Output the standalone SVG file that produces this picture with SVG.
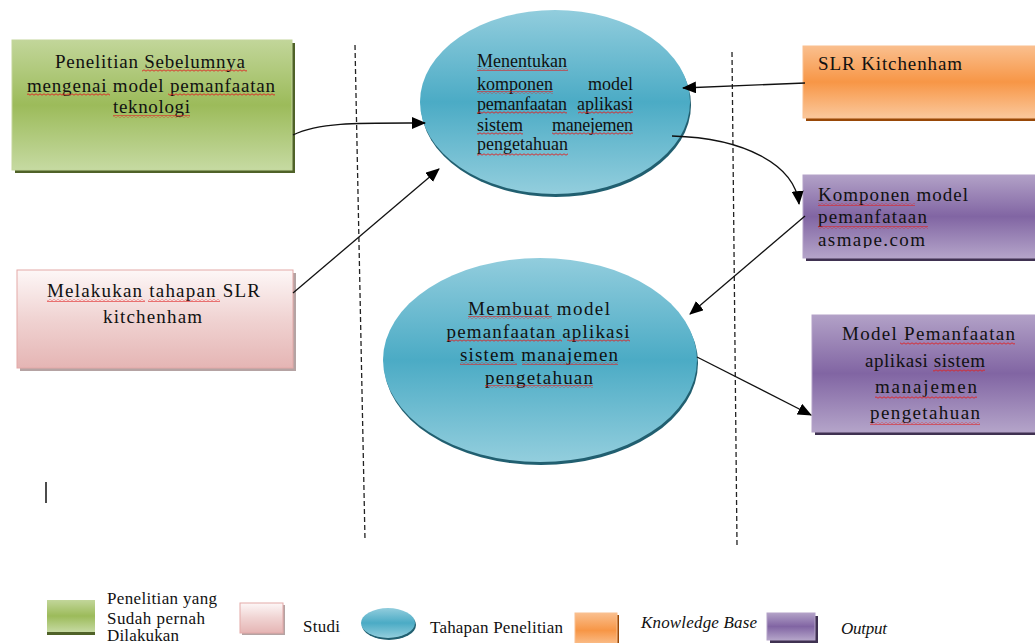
<svg xmlns="http://www.w3.org/2000/svg" width="1035" height="643" viewBox="0 0 1035 643">
<defs>
<style>
.t{font-family:"Liberation Serif","Times New Roman",serif;font-size:19px;fill:#111}
.e{font-size:18px}
.lg{font-size:17px}
.it{font-style:italic}
.conn{fill:none;stroke:#111;stroke-width:1.3}
.dash{fill:none;stroke:#222;stroke-width:1.3;stroke-dasharray:5 3}
.sq{fill:url(#squig)}
</style>
<pattern id="squig" patternUnits="userSpaceOnUse" width="4" height="3">
<path d="M0,0.8 L2,2.2 L4,0.8" fill="none" stroke="#e02020" stroke-width="0.9"/>
</pattern>
<linearGradient id="gGreen" x1="0" y1="0" x2="0" y2="1">
<stop offset="0" stop-color="#c2d69a"/><stop offset="0.5" stop-color="#9cbb5a"/><stop offset="1" stop-color="#c6daa2"/>
</linearGradient>
<linearGradient id="gPink" x1="0" y1="0" x2="0" y2="1">
<stop offset="0" stop-color="#fdf7f7"/><stop offset="0.5" stop-color="#f0d3d2"/><stop offset="1" stop-color="#e5b5b4"/>
</linearGradient>
<linearGradient id="gOrange" x1="0" y1="0" x2="0" y2="1">
<stop offset="0" stop-color="#fabf8e"/><stop offset="0.5" stop-color="#f79646"/><stop offset="1" stop-color="#fbc89c"/>
</linearGradient>
<linearGradient id="gPurple" x1="0" y1="0" x2="0" y2="1">
<stop offset="0" stop-color="#b2a1c7"/><stop offset="0.5" stop-color="#8165a3"/><stop offset="1" stop-color="#b4a4c9"/>
</linearGradient>
<linearGradient id="gBlue" x1="0" y1="0" x2="0" y2="1">
<stop offset="0" stop-color="#92cddd"/><stop offset="0.5" stop-color="#4babc5"/><stop offset="1" stop-color="#93cedd"/>
</linearGradient>
<marker id="arr" markerUnits="userSpaceOnUse" markerWidth="14" markerHeight="12" viewBox="0 0 14 12" refX="13" refY="6" orient="auto">
<path d="M0,0 L14,6 L0,12 Z" fill="#000"/>
</marker>
<clipPath id="clipP1"><rect x="803" y="175" width="240" height="73"/></clipPath>
</defs>
<rect width="1035" height="643" fill="#fff"/>

<g id="dividers">
<line class="dash" x1="355" y1="45" x2="365" y2="540"/>
<line class="dash" x1="732" y1="52" x2="737" y2="545"/>
</g>

<g id="node-penelitian">
<rect x="15" y="43" width="280" height="130" fill="#4f6228"/>
<rect x="12" y="40" width="280" height="130" fill="url(#gGreen)" stroke="#c3d69b" stroke-width="1"/>
<text class="t" x="55" y="68" textLength="190" lengthAdjust="spacing">Penelitian Sebelumnya</text>
<text class="t" x="27" y="92" textLength="248" lengthAdjust="spacing">mengenai model pemanfaatan</text>
<text class="t" x="113" y="113" textLength="77" lengthAdjust="spacing">teknologi</text>
<rect class="sq" x="142" y="69" width="105" height="3"/>
<rect class="sq" x="27" y="93" width="83" height="3"/>
<rect class="sq" x="168" y="93" width="107" height="3"/>
<rect class="sq" x="113" y="115" width="77" height="3"/>
</g>

<g id="node-studi">
<rect x="20" y="273" width="276" height="98" fill="#b5a3a3"/>
<rect x="17" y="270" width="276" height="98" fill="url(#gPink)" stroke="#e3a9a8" stroke-width="1"/>
<text class="t" x="47" y="297" textLength="213" lengthAdjust="spacing">Melakukan tahapan SLR</text>
<text class="t" x="103" y="323" textLength="99" lengthAdjust="spacing">kitchenham</text>
<rect class="sq" x="47" y="299" width="98" height="3"/>
<rect class="sq" x="148" y="299" width="72" height="3"/>
</g>

<g id="node-menentukan">
<ellipse cx="556" cy="105" rx="135" ry="92" fill="#215f70"/>
<ellipse cx="555" cy="102" rx="135" ry="92" fill="url(#gBlue)"/>
<text class="t e" x="477" y="67" textLength="90" lengthAdjust="spacing">Menentukan</text>
<text class="t e" x="477" y="90" textLength="76" lengthAdjust="spacing">komponen</text>
<text class="t e" x="633" y="90" text-anchor="end">model</text>
<text class="t e" x="477" y="110" textLength="90" lengthAdjust="spacing">pemanfaatan</text>
<text class="t e" x="633" y="110" text-anchor="end">aplikasi</text>
<text class="t e" x="477" y="131" textLength="46" lengthAdjust="spacing">sistem</text>
<text class="t e" x="633" y="131" text-anchor="end" textLength="81" lengthAdjust="spacing">manejemen</text>
<text class="t e" x="477" y="150" textLength="91" lengthAdjust="spacing">pengetahuan</text>
<rect class="sq" x="477" y="68" width="91" height="3"/>
<rect class="sq" x="477" y="91" width="76" height="3"/>
<rect class="sq" x="477" y="111" width="90" height="3"/>
<rect class="sq" x="578" y="111" width="55" height="3"/>
<rect class="sq" x="477" y="132" width="46" height="3"/>
<rect class="sq" x="552" y="132" width="81" height="3"/>
<rect class="sq" x="477" y="153" width="91" height="3"/>
</g>

<g id="node-membuat">
<ellipse cx="541" cy="363" rx="157" ry="102" fill="#215f70"/>
<ellipse cx="540" cy="360" rx="157" ry="102" fill="url(#gBlue)"/>
<text class="t" x="539" y="315" text-anchor="middle" textLength="142" lengthAdjust="spacing">Membuat model</text>
<text class="t" x="538" y="338" text-anchor="middle" textLength="183" lengthAdjust="spacing">pemanfaatan aplikasi</text>
<text class="t" x="539" y="361" text-anchor="middle" textLength="158" lengthAdjust="spacing">sistem manajemen</text>
<text class="t" x="539" y="384" text-anchor="middle" textLength="108" lengthAdjust="spacing">pengetahuan</text>
<rect class="sq" x="468" y="316" width="84" height="3"/>
<rect class="sq" x="447" y="339" width="115" height="3"/>
<rect class="sq" x="567" y="339" width="63" height="3"/>
<rect class="sq" x="460" y="362" width="57" height="3"/>
<rect class="sq" x="522" y="362" width="96" height="3"/>
<rect class="sq" x="485" y="385" width="108" height="3"/>
</g>

<g id="node-kitchenham">
<rect x="806" y="49" width="240" height="72" fill="#984807"/>
<rect x="803" y="46" width="240" height="72" fill="url(#gOrange)" stroke="#fac08f" stroke-width="1"/>
<text class="t" x="818" y="70" textLength="144" lengthAdjust="spacing">SLR Kitchenham</text>
</g>

<g id="node-komponen">
<rect x="806" y="178" width="240" height="83" fill="#3f3151"/>
<rect x="803" y="175" width="240" height="83" fill="url(#gPurple)" stroke="#b3a2c7" stroke-width="1"/>
<g clip-path="url(#clipP1)">
<text class="t" x="818" y="201" textLength="150" lengthAdjust="spacing">Komponen model</text>
<text class="t" x="818" y="223" textLength="109" lengthAdjust="spacing">pemanfataan</text>
<text class="t" x="818" y="246" textLength="107" lengthAdjust="spacing">asmape.com</text>
</g>
<rect class="sq" x="818" y="203" width="97" height="3"/>
<rect class="sq" x="818" y="226" width="110" height="3"/>
</g>

<g id="node-output">
<rect x="815" y="318" width="230" height="117" fill="#3f3151"/>
<rect x="812" y="315" width="230" height="117" fill="url(#gPurple)" stroke="#b3a2c7" stroke-width="1"/>
<text class="t" x="842" y="340" textLength="173" lengthAdjust="spacing">Model Pemanfaatan</text>
<text class="t" x="865" y="367" textLength="120" lengthAdjust="spacing">aplikasi sistem</text>
<text class="t" x="875" y="393" textLength="102" lengthAdjust="spacing">manajemen</text>
<text class="t" x="870" y="419" textLength="110" lengthAdjust="spacing">pengetahuan</text>
<rect class="sq" x="900" y="342" width="115" height="3"/>
<rect class="sq" x="933" y="369" width="52" height="3"/>
<rect class="sq" x="875" y="396" width="102" height="3"/>
<rect class="sq" x="870" y="422" width="110" height="3"/>
</g>

<g id="connectors">
<path class="conn" d="M293,135 C320,122 360,123 425,123" marker-end="url(#arr)"/>
<path class="conn" d="M293,293 L439,169" marker-end="url(#arr)"/>
<path class="conn" d="M805,83 L683,88" marker-end="url(#arr)"/>
<path class="conn" d="M672,136 C745,138 795,165 799,204" marker-end="url(#arr)"/>
<path class="conn" d="M805,216 L690,314" marker-end="url(#arr)"/>
<path class="conn" d="M697,357 L811,415" marker-end="url(#arr)"/>
</g>

<line x1="46" y1="482" x2="46" y2="503" stroke="#111" stroke-width="1.5"/>

<g id="legend">
<rect x="47" y="603" width="48" height="32" fill="#4f6228"/>
<rect x="47" y="600" width="48" height="32" fill="url(#gGreen)"/>
<text class="t lg" x="107" y="604" textLength="110" lengthAdjust="spacing">Penelitian yang</text>
<text class="t lg" x="107" y="624" textLength="98" lengthAdjust="spacing">Sudah pernah</text>
<text class="t lg" x="107" y="641" textLength="72" lengthAdjust="spacing">Dilakukan</text>

<rect x="242" y="605" width="43" height="30" fill="#b5a3a3"/>
<rect x="240" y="603" width="43" height="30" fill="url(#gPink)" stroke="#e3a9a8" stroke-width="1"/>
<text class="t lg" x="303" y="632" textLength="37" lengthAdjust="spacing">Studi</text>

<ellipse cx="389" cy="625" rx="27" ry="15" fill="#215f70"/>
<ellipse cx="388" cy="623" rx="27" ry="15" fill="url(#gBlue)"/>
<text class="t lg" x="430" y="633" textLength="133" lengthAdjust="spacing">Tahapan Penelitian</text>

<rect x="577" y="615" width="42" height="35" fill="#984807"/>
<rect x="575" y="613" width="42" height="35" fill="url(#gOrange)" stroke="#fac08f" stroke-width="1"/>
<text class="t lg it" x="641" y="628" textLength="116" lengthAdjust="spacing">Knowledge Base</text>

<rect x="770" y="616" width="48" height="30" fill="#3f3151"/>
<rect x="767" y="613" width="48" height="27" fill="url(#gPurple)" stroke="#b3a2c7" stroke-width="1"/>
<text class="t lg it" x="841" y="634" textLength="46" lengthAdjust="spacing">Output</text>
</g>
</svg>
